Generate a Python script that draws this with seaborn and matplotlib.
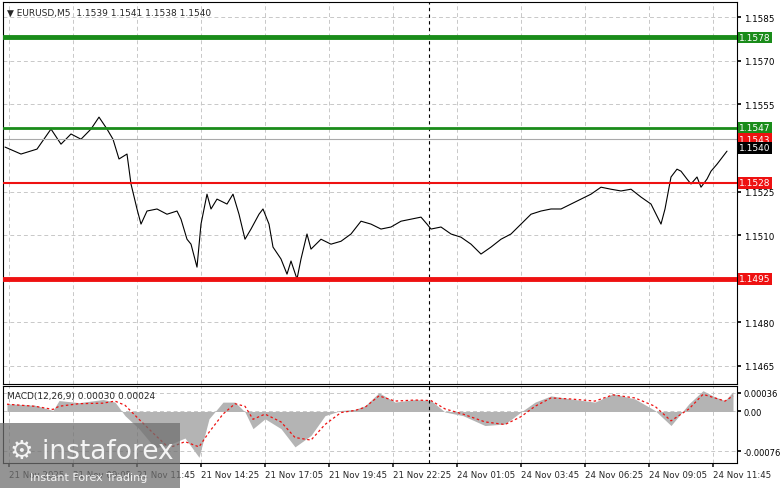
import matplotlib
matplotlib.use("Agg")
import matplotlib.pyplot as plt
import seaborn as sns
import pandas as pd

sns.set_theme(style="white")
plt.rcParams['font.family'] = ['DejaVu Sans']

# price trace (bar index, close)
bars = [0, 8, 16, 23, 28, 33, 38, 43, 47, 51, 54, 57, 61, 63, 66, 68, 71, 76, 81, 86, 88, 91, 93, 96,
        98, 101, 103, 106, 111, 114, 117, 120, 123, 127, 129, 132, 134, 138, 141, 143, 146, 148, 151,
        153, 158, 163, 168, 173, 178, 183, 188, 193, 198, 203, 208, 211, 213, 218, 223, 228, 233, 238,
        243, 248, 253, 258, 263, 268, 273, 278, 283, 288, 293, 298, 303, 308, 313, 318, 323, 328, 330,
        333, 336, 338, 341, 343, 346, 348, 351, 353, 356, 358, 361]
close = [1.15403, 1.15379, 1.15396, 1.15465, 1.15413, 1.15448, 1.15430, 1.15465, 1.15506, 1.15465,
         1.15430, 1.15362, 1.15379, 1.15276, 1.15190, 1.15138, 1.15183, 1.15190, 1.15172, 1.15183,
         1.15155, 1.15086, 1.15069, 1.14990, 1.15138, 1.15241, 1.15190, 1.15224, 1.15207, 1.15241,
         1.15172, 1.15086, 1.15121, 1.15172, 1.15190, 1.15138, 1.15059, 1.15018, 1.14966, 1.15011,
         1.14949, 1.15018, 1.15104, 1.15052, 1.15086, 1.15069, 1.15079, 1.15104, 1.15148, 1.15138,
         1.15121, 1.15128, 1.15148, 1.15155, 1.15162, 1.15138, 1.15121, 1.15128, 1.15104, 1.15093,
         1.15069, 1.15035, 1.15059, 1.15086, 1.15104, 1.15138, 1.15172, 1.15183, 1.15190, 1.15190,
         1.15207, 1.15224, 1.15241, 1.15265, 1.15258, 1.15252, 1.15258, 1.15231, 1.15207, 1.15138,
         1.15190, 1.15300, 1.15327, 1.15320, 1.15293, 1.15276, 1.15300, 1.15265, 1.15293, 1.15320,
         1.15344, 1.15362, 1.15389]

# MACD trace
macd_bars = [1, 15, 24, 27, 37, 49, 55, 60, 67, 75, 82, 90, 97, 102, 109, 115, 120, 124, 130, 138,
             145, 153, 160, 168, 175, 180, 187, 195, 205, 213, 220, 229, 240, 250, 258, 265, 273, 283,
             295, 304, 315, 325, 333, 342, 349, 355, 360, 364]
macd_hist = [0.00015, 0.00012, 0.00002, 0.00021, 0.00017, 0.00023, 0.00018, -0.00008, -0.00033,
             -0.00070, -0.00064, -0.00051, -0.00088, -0.00014, 0.00018, 0.00018, -0.00001, -0.00033,
             -0.00014, -0.00033, -0.00068, -0.00046, -0.00008, 0.00002, 0.00004, 0.00011, 0.00036,
             0.00018, 0.00023, 0.00021, -0.00001, -0.00008, -0.00027, -0.00024, -0.00001, 0.00018,
             0.00030, 0.00024, 0.00018, 0.00034, 0.00024, 0.00002, -0.00027, 0.00015, 0.00040,
             0.00028, 0.00021, 0.00038]
macd_signal = [0.00014, 0.00010, 0.00004, 0.00010, 0.00015, 0.00016, 0.00020, 0.00012, -0.00015,
               -0.00045, -0.00070, -0.00058, -0.00068, -0.00040, -0.00005, 0.00015, 0.00010, -0.00015,
               -0.00005, -0.00020, -0.00050, -0.00055, -0.00025, -0.00002, 0.00002, 0.00008, 0.00030,
               0.00020, 0.00022, 0.00021, 0.00005, -0.00005, -0.00020, -0.00025, -0.00010, 0.00010,
               0.00026, 0.00024, 0.00020, 0.00032, 0.00026, 0.00010, -0.00018, 0.00005, 0.00033,
               0.00026, 0.00020, 0.00030]

tick_bars = [2 + 32 * k for k in range(12)]
tick_labels = ["21 Nov 2025", "21 Nov 09:05", "21 Nov 11:45", "21 Nov 14:25", "21 Nov 17:05",
               "21 Nov 19:45", "21 Nov 22:25", "24 Nov 01:05", "24 Nov 03:45", "24 Nov 06:25",
               "24 Nov 09:05", "24 Nov 11:45"]
price_ticks = [1.1585, 1.1570, 1.1555, 1.1525, 1.1510, 1.1480, 1.1465]
levels = [(1.1578, "#1a8c1a", 3.5), (1.1547, "#1a8c1a", 2), (1.1528, "#ee1111", 1.5), (1.1495, "#ee1111", 3.5)]

W, H = 781, 489
fig = plt.figure(figsize=(W / 100, H / 100), dpi=100)
ax = fig.add_axes([3 / W, 1 - 385 / H, 734 / W, 382 / H])
axm = fig.add_axes([3 / W, 1 - 464 / H, 734 / W, 77 / H])

df = pd.DataFrame({"bar": bars, "close": close})
sns.lineplot(data=df, x="bar", y="close", ax=ax, color="black", lw=0.8)
ax.set_xlim(-1, 366)
ax.set_ylim(1.14588, 1.15902)

for v, c, lw in levels:
    ax.axhline(v, color=c, lw=lw, zorder=3)
    ax.text(1.003, v, f"{v:.4f}", transform=ax.get_yaxis_transform(), va="center", ha="left",
            fontsize=6.5, color="white", bbox=dict(boxstyle="square,pad=0.15", fc=c, ec="none"))
ax.axhline(1.1543, color="#aaaaaa", lw=0.8)
ax.text(1.003, 1.1543, "1.1543", transform=ax.get_yaxis_transform(), va="center", ha="left",
        fontsize=6.5, color="white", bbox=dict(boxstyle="square,pad=0.15", fc="#ee1111", ec="none"))
ax.text(1.003, 1.1540, "1.1540", transform=ax.get_yaxis_transform(), va="center", ha="left",
        fontsize=6.5, color="white", bbox=dict(boxstyle="square,pad=0.15", fc="black", ec="none"))

for a in (ax, axm):
    a.set_xticks(tick_bars)
    a.grid(True, color="#c8c8c8", ls=(0, (4, 3)), lw=0.7)
    a.axvline(212, color="black", ls=(0, (3, 3)), lw=0.8)
    a.yaxis.tick_right()
    a.tick_params(axis="y", labelsize=6.3, length=3, pad=2, colors="black", right=True)
    for s in a.spines.values():
        s.set_color("black")
        s.set_linewidth(0.8)
    a.set_xlabel("")
    a.set_ylabel("")
ax.set_yticks(price_ticks)
ax.set_yticklabels([f"{t:.4f}" for t in price_ticks])
ax.set_xticklabels([])
ax.tick_params(axis="x", length=0)
ax.text(0.005, 0.985, "\u25bc EURUSD,M5  1.1539 1.1541 1.1538 1.1540", transform=ax.transAxes,
        fontsize=6.5, va="top")

axm.fill_between(macd_bars, 0, macd_hist, color="#b4b4b4", lw=0)
axm.plot(macd_bars, macd_signal, color="#ee1111", ls=(0, (2, 2)), lw=0.9)
axm.set_xlim(-1, 366)
axm.set_ylim(-0.00099, 0.00049)
axm.set_yticks([0.00036, 0.0, -0.00076])
axm.set_yticklabels(["0.00036", "0.00", "-0.00076"], fontsize=6)
axm.set_xticklabels(tick_labels, fontsize=6.2, ha="left")
axm.tick_params(axis="x", length=3, pad=2, bottom=True)
axm.text(0.005, 0.93, "MACD(12,26,9) 0.00030 0.00024", transform=axm.transAxes, fontsize=6.5, va="top")

# watermark
fig.patches.append(plt.Rectangle((0, 0), 180 / W, 65 / H, transform=fig.transFigure,
                                 fc="#707070", alpha=0.75, ec="none", zorder=5))
fig.text(10 / W, 30 / H, "\u2699 instaforex", fontsize=19, color="white", zorder=6, alpha=0.9)
fig.text(30 / W, 8 / H, "Instant Forex Trading", fontsize=8, color="white", zorder=6, alpha=0.9)

fig.savefig("out.png", dpi=100, facecolor="white")
